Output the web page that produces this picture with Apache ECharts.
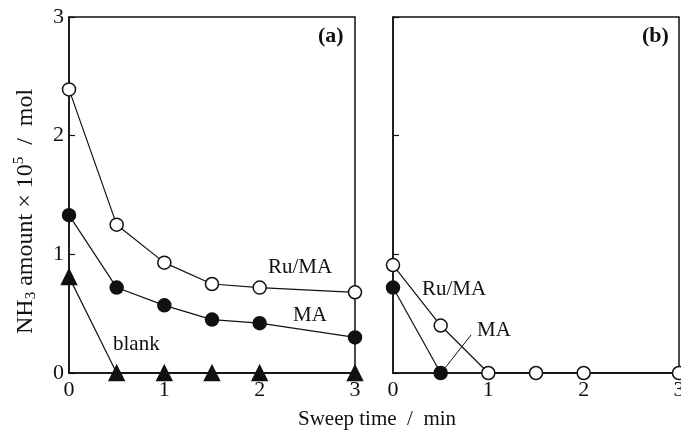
<!DOCTYPE html>
<html>
<head>
<meta charset="utf-8">
<script src="https://cdn.jsdelivr.net/npm/echarts@6/dist/echarts.min.js"></script>
<style>
html,body{margin:0;padding:0;background:#fff;}
#chart{width:681px;height:438px;}
</style>
</head>
<body>
<div id="chart"></div>
<script>
// sweep time (min)
var timeA = [0, 0.5, 1, 1.5, 2, 3]
var timeB = [0, 0.5, 1, 1.5, 2, 3]

// panel (a)
var ruA = [2.39, 1.25, 0.93, 0.75, 0.72, 0.68]
var maA = [1.33, 0.72, 0.57, 0.45, 0.42, 0.30]
var blankA = [0.81, 0, 0, 0, 0, 0]

// panel (b)
var ruB = [0.91, 0.40, 0, 0, 0, 0]
var maB = [0.72, 0]

var yTicks = [0, 1, 2, 3]
var xTicks = [0, 1, 2, 3]

var FONT = '"Liberation Serif", "Times New Roman", serif'
var INK = '#111'

function pairs(xs, ys){
    var out = []
    for(var i=0;i<ys.length;i++){
        out.push([xs[i], ys[i]])
    }
    return out
}

function lineSeries(idx, data, symbol, filled, size){
    return {
        type:'line',
        xAxisIndex:idx,
        yAxisIndex:idx,
        data:data,
        symbol:symbol,
        symbolSize:size,
        showAllSymbol:true,
        clip:false,
        animation:false,
        lineStyle:{color:INK,width:1.2},
        itemStyle:{
            color: filled ? INK : '#fff',
            borderColor:INK,
            borderWidth:1.5
        },
        z: filled ? 3 : 4
    }
}

function xAxis(idx){
    return {
        type:'value',
        gridIndex:idx,
        min:0, max:3, interval:1,
        axisLine:{show:true,lineStyle:{color:INK,width:1.5}},
        axisTick:{show:false},
        splitLine:{show:false},
        axisLabel:{
            color:INK, fontFamily:FONT, fontSize:22, margin:6,
            formatter:function(v){ return xTicks.indexOf(v)>=0 ? String(v) : '' }
        }
    }
}

function yAxis(idx, showLabel){
    return {
        type:'value',
        gridIndex:idx,
        min:0, max:3, interval:1,
        axisLine:{show:true,lineStyle:{color:INK,width:1.5}},
        axisTick:{show:true,inside:true,length:6,lineStyle:{color:INK,width:1.2}},
        splitLine:{show:false},
        axisLabel:{
            show:showLabel,
            color:INK, fontFamily:FONT, fontSize:22, margin:5,
            formatter:function(v){ return yTicks.indexOf(v)>=0 ? String(v) : '' }
        }
    }
}

var chart = echarts.init(document.getElementById('chart'))

var option = {
    backgroundColor:'#fff',
    animation:false,
    grid:[
        {left:69, right:326, top:17, bottom:65, show:true, borderColor:INK, borderWidth:1.5, backgroundColor:'transparent', outerBoundsMode:'none', containLabel:false},
        {left:393, right:2, top:17, bottom:65, show:true, borderColor:INK, borderWidth:1.5, backgroundColor:'transparent', outerBoundsMode:'none', containLabel:false}
    ],
    xAxis:[xAxis(0), xAxis(1)],
    yAxis:[yAxis(0,true), yAxis(1,false)],
    series:[
        lineSeries(0, pairs(timeA, ruA), 'circle', false, 13),
        lineSeries(0, pairs(timeA, maA), 'circle', true, 13),
        lineSeries(0, pairs(timeA, blankA), 'triangle', true, 15),
        lineSeries(1, pairs(timeB, ruB), 'circle', false, 13),
        lineSeries(1, pairs(timeB, maB), 'circle', true, 13)
    ],
    graphic:[
        {type:'text', left:318, top:25, style:{text:'(a)', font:'bold 22px '+FONT, fill:INK}},
        {type:'text', left:642, top:25, style:{text:'(b)', font:'bold 22px '+FONT, fill:INK}},
        {type:'text', left:268, top:257, style:{text:'Ru/MA', font:'21px '+FONT, fill:INK}},
        {type:'text', left:293, top:305, style:{text:'MA', font:'21px '+FONT, fill:INK}},
        {type:'text', left:113, top:334, style:{text:'blank', font:'21px '+FONT, fill:INK}},
        {type:'text', left:422, top:279, style:{text:'Ru/MA', font:'21px '+FONT, fill:INK}},
        {type:'text', left:477, top:320, style:{text:'MA', font:'21px '+FONT, fill:INK}},
        {type:'line', shape:{x1:471, y1:335, x2:445, y2:368}, style:{stroke:INK, lineWidth:1}},
        {type:'text', left:298, top:409, style:{text:'Sweep time  /  min', font:'21px '+FONT, fill:INK}},
        {
            type:'text', x:12, y:334, rotation:Math.PI/2,
            style:{
                text:'NH{sub|3} amount × 10{sup|5}  /  mol',
                font:'24px '+FONT, fill:INK,
                rich:{
                    sub:{fontSize:15, fontFamily:FONT, verticalAlign:'bottom', padding:[12,0,0,0]},
                    sup:{fontSize:15, fontFamily:FONT, verticalAlign:'top', padding:[0,0,12,0]}
                }
            }
        }
    ]
}

chart.setOption(option)
</script>
</body>
</html>
